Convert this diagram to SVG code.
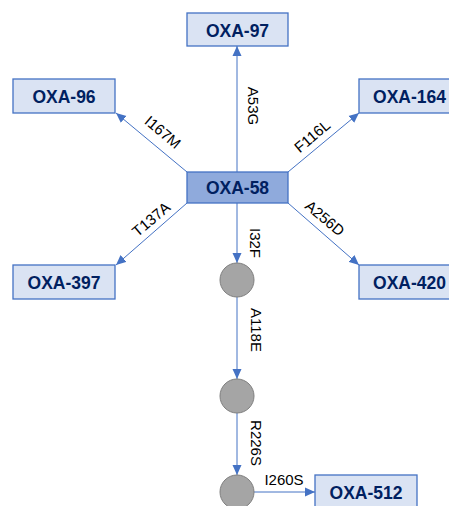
<svg xmlns="http://www.w3.org/2000/svg" width="449" height="506" viewBox="0 0 449 506">
  <style>
    .box { fill: #DAE3F3; stroke: #4472C4; stroke-width: 1.3; }
    .hub { fill: #8FAADC; stroke: #4472C4; stroke-width: 1.3; }
    .name { font-family: "Liberation Sans", Arial, sans-serif; font-weight: bold; font-size: 17.5px; fill: #002060; text-anchor: middle; }
    .dot { fill: #A5A5A5; stroke: #7F7F7F; stroke-width: 1; }
    .edge { stroke: #4472C4; stroke-width: 1; fill: none; marker-end: url(#arrow); }
    .mut { font-family: "Liberation Sans", Arial, sans-serif; font-size: 15px; fill: #000; text-anchor: middle; dominant-baseline: central; }
  </style>
  <defs>
    <marker id="arrow" markerUnits="userSpaceOnUse" markerWidth="10" markerHeight="10" viewBox="0 0 10 10" refX="10" refY="5" orient="auto">
      <path d="M0,0.5 L10,5 L0,9.5 Z" fill="#4472C4"/>
    </marker>
  </defs>
  <rect width="449" height="506" fill="#FFFFFF"/>

  <!-- connectors with mutation labels -->
  <g id="connectors">
    <line class="edge" x1="237" y1="172" x2="237" y2="46"/>
    <line class="edge" x1="187" y1="172" x2="116" y2="113"/>
    <line class="edge" x1="288" y1="172" x2="359" y2="113"/>
    <line class="edge" x1="187" y1="203" x2="116" y2="265"/>
    <line class="edge" x1="288" y1="203" x2="359" y2="265"/>
    <line class="edge" x1="237" y1="203" x2="237" y2="263"/>
    <line class="edge" x1="237" y1="297" x2="237" y2="379"/>
    <line class="edge" x1="237" y1="413" x2="237" y2="475"/>
    <line class="edge" x1="254" y1="492" x2="315" y2="492"/>

    <text class="mut" transform="translate(253,106) rotate(90)">A53G</text>
    <text class="mut" transform="translate(163,132) rotate(40)">I167M</text>
    <text class="mut" transform="translate(312,136) rotate(-40)">F116L</text>
    <text class="mut" transform="translate(151,219) rotate(-40)">T137A</text>
    <text class="mut" transform="translate(325,218) rotate(40)">A256D</text>
    <text class="mut" transform="translate(255,243) rotate(90)">I32F</text>
    <text class="mut" transform="translate(256,330) rotate(90)">A118E</text>
    <text class="mut" transform="translate(256.5,443) rotate(90)">R226S</text>
    <text class="mut" x="284" y="479">I260S</text>
  </g>

  <g id="oxa-97">
    <rect class="box" x="187" y="13" width="101" height="33"/>
    <text class="name" x="237.5" y="37">OXA-97</text>
  </g>
  <g id="oxa-96">
    <rect class="box" x="13" y="79" width="102" height="34"/>
    <text class="name" x="64" y="103">OXA-96</text>
  </g>
  <g id="oxa-164">
    <rect class="box" x="359" y="79" width="101" height="34"/>
    <text class="name" x="409.5" y="103">OXA-164</text>
  </g>
  <g id="oxa-58">
    <rect class="hub" x="187" y="172" width="101" height="31"/>
    <text class="name" x="237.5" y="194">OXA-58</text>
  </g>
  <g id="oxa-397">
    <rect class="box" x="13" y="265" width="102" height="34"/>
    <text class="name" x="64" y="289">OXA-397</text>
  </g>
  <g id="oxa-420">
    <rect class="box" x="359" y="265" width="101" height="34"/>
    <text class="name" x="409.5" y="289">OXA-420</text>
  </g>
  <g id="step-1">
    <circle class="dot" cx="237" cy="280" r="17"/>
  </g>
  <g id="step-2">
    <circle class="dot" cx="237" cy="396" r="17"/>
  </g>
  <g id="step-3">
    <circle class="dot" cx="237" cy="492" r="17"/>
  </g>
  <g id="oxa-512">
    <rect class="box" x="315" y="475" width="102" height="34"/>
    <text class="name" x="366" y="499">OXA-512</text>
  </g>
</svg>
